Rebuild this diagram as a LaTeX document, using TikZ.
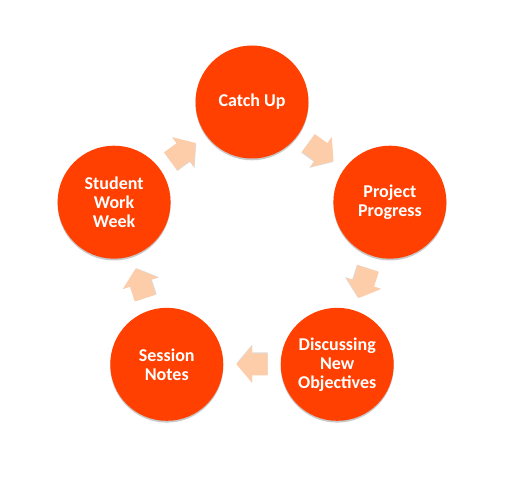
\documentclass[tikz,border=0pt]{standalone}
\usepackage{fontspec}
\setmainfont{Carlito}
\usetikzlibrary{shadows,calc}
\definecolor{circ}{HTML}{FF4000}
\definecolor{arr}{HTML}{FDCCA9}
\begin{document}
\begin{tikzpicture}[x=1pt,y=1pt,
  stage/.style={circle, fill=circ, minimum size=113pt, inner sep=0pt,
    text=white, font=\bfseries\fontsize{18}{19}\selectfont, align=center,
    drop shadow={shadow xshift=0pt, shadow yshift=-1.8pt, opacity=0.3, fill=black!70}},
  pics/cycarrow/.style={code={
    \fill[black!40, opacity=0.35, yshift=-1pt]
      (-15.5,-11) -- (0,-11) -- (0,-18.5) -- (15.5,0) -- (0,18.5) -- (0,11) -- (-15.5,11) -- cycle;
    \fill[arr]
      (-15.5,-11) -- (0,-11) -- (0,-18.5) -- (15.5,0) -- (0,18.5) -- (0,11) -- (-15.5,11) -- cycle;
  }}
]
\useasboundingbox[fill=white] (0,0) rectangle (525,480);
\coordinate (O) at (252,233);
\node[stage] (c1) at ($(O)+(90:145)$) {Catch Up};
\node[stage] (c2) at ($(O)+(18:145)$) {Project\\Progress};
\node[stage] (c3) at ($(O)+(-54:145)$) {Discussing\\New\\Objectives};
\node[stage] (c4) at ($(O)+(-126:145)$) {Session\\Notes};
\node[stage] (c5) at ($(O)+(162:145)$) {Student\\Work\\Week};
\pic[rotate=-36] at ($(c1)!0.5!(c2)$) {cycarrow};
\pic[rotate=-108] at ($(c2)!0.5!(c3)$) {cycarrow};
\pic[rotate=180] at ($(c3)!0.5!(c4)$) {cycarrow};
\pic[rotate=108] at ($(c4)!0.5!(c5)$) {cycarrow};
\pic[rotate=36] at ($(c5)!0.5!(c1)$) {cycarrow};
\end{tikzpicture}
\end{document}
